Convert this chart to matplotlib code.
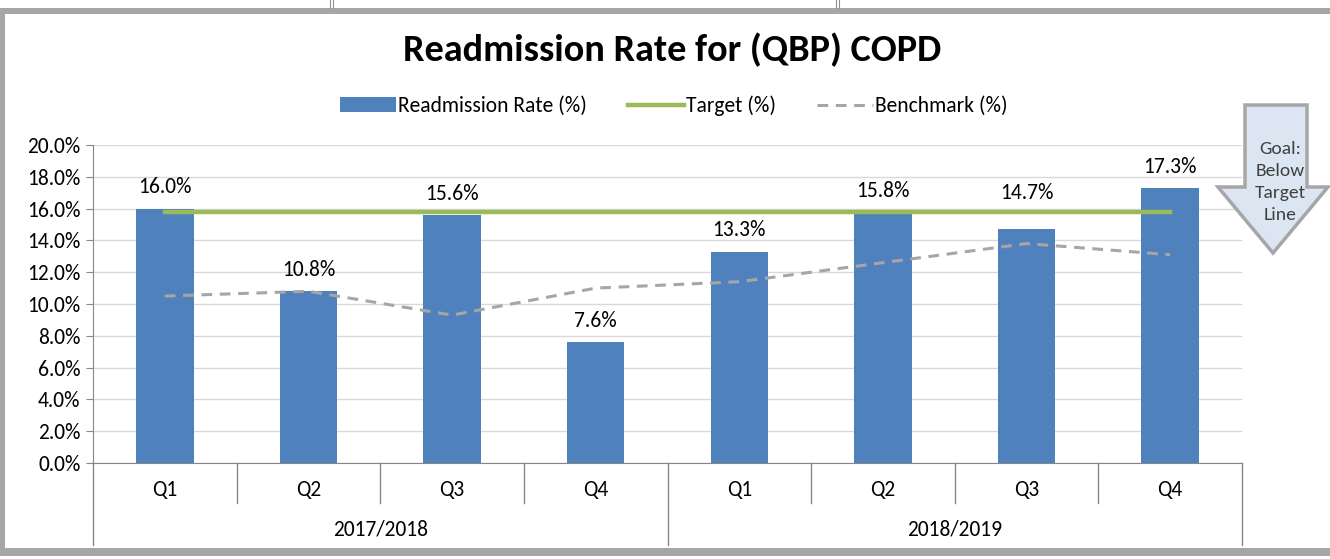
import numpy as np
import matplotlib
matplotlib.use('Agg')
import matplotlib.pyplot as plt
from matplotlib.patches import Rectangle, Polygon
from matplotlib.lines import Line2D
from matplotlib.ticker import PercentFormatter

plt.rcParams['font.family'] = ['Carlito', 'Lato', 'DejaVu Sans']

quarters = ['Q1', 'Q2', 'Q3', 'Q4', 'Q1', 'Q2', 'Q3', 'Q4']
years = ['2017/2018', '2018/2019']
rate = [16.0, 10.8, 15.6, 7.6, 13.3, 15.8, 14.7, 17.3]
target = [15.8, 15.8, 15.8, 15.8, 15.8, 15.8, 15.8, 15.8]
benchmark = [10.5, 10.8, 9.3, 11.0, 11.4, 12.6, 13.8, 13.1]

blue = '#4F81BD'
green = '#9BBB59'
gray = '#A6A6A6'
fs = 15.5

W, H = 1330, 559
fig = plt.figure(figsize=(13.3, 5.59), dpi=100)

# outer frame of the chart
def px_rect(x0, y0, x1, y1, **kw):
    fig.patches.append(Rectangle((x0 / W, 1 - y1 / H), (x1 - x0) / W, (y1 - y0) / H,
                                 transform=fig.transFigure, **kw))

px_rect(0, 8, W, 14, color=gray, lw=0)
px_rect(0, 8, 5, 556, color=gray, lw=0)
px_rect(0, 548, W, 556, color=gray, lw=0)
for xx in [330, 333, 836, 839]:
    fig.add_artist(Line2D([xx / W, xx / W], [1 - 8 / H, 1], color='#909090', lw=0.8))

ax = fig.add_axes([93 / W, 1 - 463 / H, (1242 - 93) / W, (463 - 145) / H])
x = np.arange(len(quarters))

bars = ax.bar(x, rate, width=0.4, color=blue, label='Readmission Rate (%)', zorder=2)
ax.plot(x, target, color=green, lw=3.2, label='Target (%)', zorder=3)
ax.plot(x, benchmark, color=gray, lw=2.2, ls=(0, (3.5, 2.5)), label='Benchmark (%)', zorder=3)

# the 14.7% label sits higher, clear of the target line
extra = {6: 11}
for i, (xi, v) in enumerate(zip(x, rate)):
    ax.annotate(f'{v:.1f}%', (xi, v), xytext=(0, 8 + extra.get(i, 0)), textcoords='offset points',
                ha='center', va='bottom', fontsize=fs, color='#000000')

ax.set_xlim(-0.5, len(quarters) - 0.5)
ax.set_ylim(0, 20)
ax.set_yticks(np.arange(0, 20.1, 2))
ax.yaxis.set_major_formatter(PercentFormatter(decimals=1))
ax.tick_params(axis='y', labelsize=fs, length=5, color='#868686', pad=4, labelcolor='#000000')
ax.tick_params(axis='x', length=0, labelbottom=False)
ax.grid(axis='y', color='#D9D9D9', lw=1)
ax.set_axisbelow(True)
for s in ['top', 'right']:
    ax.spines[s].set_visible(False)
ax.spines['left'].set_color('#868686')
ax.spines['bottom'].set_color('#868686')

# two-level category axis
tr = ax.get_xaxis_transform()
for xi, q in zip(x, quarters):
    ax.text(xi, -0.085, q, transform=tr, ha='center', va='center', fontsize=fs)
for b in np.arange(-0.5, len(quarters), 1):
    yb = -0.258 if b in (-0.5, 3.5, 7.5) else -0.126
    ax.plot([b, b], [0, yb], transform=tr, color='#868686', lw=1, clip_on=False)
for i, yr in enumerate(years):
    ax.text(1.5 + 4 * i, -0.21, yr, transform=tr, ha='center', va='center', fontsize=fs)

fig.text(672 / W, 1 - 50 / H, 'Readmission Rate for (QBP) COPD', ha='center', va='center',
         fontsize=27.5, fontweight='bold')
h, l = ax.get_legend_handles_labels()
order = [l.index('Readmission Rate (%)'), l.index('Target (%)'), l.index('Benchmark (%)')]
ax.legend([h[i] for i in order], [l[i] for i in order], loc='center',
          bbox_to_anchor=(674 / W, 1 - 106 / H), bbox_transform=fig.transFigure,
          ncol=3, frameon=False, fontsize=fs, handlelength=2.6, handletextpad=0.1,
          columnspacing=1.9)

# goal arrow
pts = [(1245, 105), (1307, 105), (1307, 187), (1328, 187), (1273, 253), (1218, 187), (1245, 187)]
fig.patches.append(Polygon([(px / W, 1 - py / H) for px, py in pts], closed=True,
                           transform=fig.transFigure, facecolor='#DCE6F2',
                           edgecolor=gray, lw=2.5))
fig.text(1280 / W, 1 - 182 / H, 'Goal:\nBelow\nTarget\nLine', ha='center', va='center',
         fontsize=14, color='#404040', linespacing=1.45)

fig.savefig('out.png', dpi=100)
